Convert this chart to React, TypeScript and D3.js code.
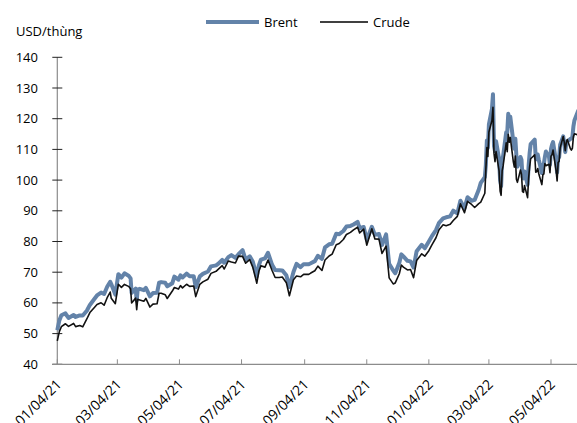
import React from "react";
import * as d3 from "d3";

const dates: string[] = [
  "2021-01-04","2021-01-06","2021-01-08","2021-01-12","2021-01-13","2021-01-15","2021-01-20","2021-01-22","2021-01-26","2021-01-29",
  "2021-02-02","2021-02-05","2021-02-09","2021-02-12","2021-02-16","2021-02-19","2021-02-22","2021-02-25","2021-02-26",
  "2021-03-02","2021-03-05","2021-03-08","2021-03-11","2021-03-15","2021-03-17","2021-03-18","2021-03-22","2021-03-23","2021-03-24","2021-03-26","2021-03-30",
  "2021-04-01","2021-04-05","2021-04-08","2021-04-12","2021-04-14","2021-04-16","2021-04-20","2021-04-22","2021-04-27","2021-04-29",
  "2021-05-03","2021-05-05","2021-05-07","2021-05-11","2021-05-14","2021-05-18","2021-05-20","2021-05-24","2021-05-27",
  "2021-06-01","2021-06-04","2021-06-09","2021-06-11","2021-06-15","2021-06-17","2021-06-21","2021-06-24","2021-06-28",
  "2021-07-01","2021-07-05","2021-07-08","2021-07-12","2021-07-15","2021-07-19","2021-07-21","2021-07-23","2021-07-27","2021-07-30",
  "2021-08-03","2021-08-06","2021-08-10","2021-08-13","2021-08-17","2021-08-20","2021-08-24","2021-08-27","2021-08-31",
  "2021-09-03","2021-09-08","2021-09-10","2021-09-14","2021-09-17","2021-09-21","2021-09-24","2021-09-28",
  "2021-10-01","2021-10-05","2021-10-08","2021-10-12","2021-10-15","2021-10-19","2021-10-22","2021-10-26","2021-10-28",
  "2021-11-01","2021-11-04","2021-11-09","2021-11-12","2021-11-16","2021-11-19","2021-11-23","2021-11-26","2021-11-30",
  "2021-12-02","2021-12-06","2021-12-08","2021-12-10","2021-12-14","2021-12-17","2021-12-20","2021-12-23","2021-12-28","2021-12-31",
  "2022-01-04","2022-01-07","2022-01-11","2022-01-14","2022-01-18","2022-01-21","2022-01-25","2022-01-28",
  "2022-02-01","2022-02-04","2022-02-08","2022-02-11","2022-02-15","2022-02-18","2022-02-22","2022-02-24","2022-02-28",
  "2022-03-01","2022-03-02","2022-03-03","2022-03-04","2022-03-07","2022-03-08","2022-03-09","2022-03-10","2022-03-11","2022-03-14",
  "2022-03-15","2022-03-16","2022-03-17","2022-03-18","2022-03-21","2022-03-22","2022-03-23","2022-03-24","2022-03-25","2022-03-28",
  "2022-03-29","2022-03-30","2022-03-31",
  "2022-04-01","2022-04-04","2022-04-05","2022-04-06","2022-04-07","2022-04-08","2022-04-11","2022-04-12","2022-04-13","2022-04-14",
  "2022-04-18","2022-04-19","2022-04-20","2022-04-21","2022-04-22","2022-04-25","2022-04-26","2022-04-27","2022-04-28","2022-04-29",
  "2022-05-02","2022-05-03","2022-05-04","2022-05-05","2022-05-06","2022-05-09","2022-05-10","2022-05-11","2022-05-12","2022-05-13",
  "2022-05-16","2022-05-17","2022-05-18","2022-05-19","2022-05-20","2022-05-23","2022-05-24","2022-05-25","2022-05-26","2022-05-27","2022-05-31"
];

const brent: number[] = [
  51.09,54.30,55.99,56.58,56.06,55.10,56.08,55.41,55.91,55.88,
  57.46,59.34,61.09,62.43,63.35,62.91,65.24,66.88,66.13,
  62.70,69.36,68.24,69.63,68.88,68.00,63.28,64.62,60.79,64.41,64.57,64.14,
  64.86,62.15,63.20,63.28,66.58,66.77,66.57,65.40,66.42,68.56,
  67.56,68.96,68.28,69.55,68.71,68.71,65.11,68.65,69.46,
  70.25,71.89,72.22,72.69,73.99,73.08,74.90,75.56,74.68,
  75.84,77.16,74.12,75.16,73.47,68.62,72.23,74.10,74.48,76.33,
  72.41,70.70,70.63,70.59,69.03,65.18,70.05,72.70,71.63,
  72.61,72.60,72.92,73.60,75.34,74.36,78.09,79.09,
  79.28,82.56,82.39,83.42,84.86,85.08,85.53,86.40,84.32,
  84.71,80.54,84.78,82.17,82.43,78.89,82.31,72.72,70.57,
  69.67,73.08,75.82,75.15,73.70,73.52,71.52,76.85,78.94,77.78,
  80.00,81.75,83.72,86.06,87.51,87.89,88.20,90.03,
  89.16,93.27,90.78,94.44,93.28,93.54,96.84,99.08,100.99,
  104.97,112.93,110.46,118.11,123.21,127.98,111.14,109.33,112.67,106.90,
  99.91,98.02,106.64,107.93,115.62,115.48,121.60,119.03,120.65,112.48,
  110.23,113.45,107.91,
  104.39,107.53,106.64,101.07,100.58,102.78,98.48,104.64,108.78,111.70,
  113.16,107.25,106.80,108.33,106.65,102.32,104.99,105.32,107.59,109.34,
  107.58,104.97,110.14,111.55,112.39,105.94,102.46,107.51,107.45,111.55,
  114.24,111.93,109.11,112.04,112.55,113.42,113.56,114.03,117.40,119.43,122.84
];

const crude: number[] = [
  47.62,50.63,52.24,53.21,52.91,52.36,53.31,52.27,52.61,52.20,
  54.76,56.85,58.36,59.47,60.05,59.24,61.70,63.53,61.50,
  59.75,66.09,65.05,66.02,65.39,64.60,60.00,61.55,57.76,61.18,60.97,60.55,
  61.45,58.65,59.60,59.70,63.15,63.13,62.67,61.43,63.86,65.01,
  64.49,65.63,64.90,66.08,65.37,65.49,62.05,66.05,66.85,
  67.72,69.62,70.29,70.91,72.12,71.04,73.66,73.30,72.98,
  75.23,75.16,72.94,74.10,71.65,66.42,70.30,72.07,71.65,73.95,
  70.56,68.28,68.29,68.44,66.59,62.32,67.54,68.74,68.50,
  69.29,69.30,69.72,70.46,71.97,70.56,73.98,75.29,
  75.88,78.93,79.35,80.64,82.28,82.96,83.76,84.65,82.81,
  84.05,78.81,84.15,80.79,80.76,76.10,78.50,68.15,66.18,
  66.50,69.49,72.36,71.67,70.73,70.86,68.23,73.79,75.98,75.21,
  76.99,78.90,81.22,83.82,85.43,85.14,85.60,86.82,
  88.20,92.31,89.36,93.10,92.07,91.07,92.35,92.81,95.72,
  103.41,110.60,107.67,115.68,119.40,123.70,108.70,106.02,109.33,103.01,
  96.44,95.04,102.98,104.70,112.12,109.27,114.93,112.34,113.90,105.96,
  104.24,107.82,100.28,
  99.27,103.28,101.96,96.23,96.03,98.26,94.29,100.60,104.25,106.95,
  108.21,102.56,102.75,103.79,102.07,98.54,101.70,102.02,105.36,104.69,
  105.17,102.41,107.81,108.26,109.77,103.09,99.76,105.71,106.13,110.49,
  114.20,112.40,109.59,112.21,113.23,110.29,109.77,110.33,114.09,115.07,114.67
];

const tickLabels: string[] = [
  "01/04/21","03/04/21","05/04/21","07/04/21","09/04/21","11/04/21","01/04/22","03/04/22","05/04/22"
];
const yTicks: number[] = [40, 50, 60, 70, 80, 90, 100, 110, 120, 130, 140];

const W = 577;
const H = 423;
const FONT = "'Open Sans', 'Noto Sans', sans-serif";
const BLUE = "#6383a9";
const AXIS = "#8c8c8c";

export default function App() {
  const parseIso = d3.utcParse("%Y-%m-%d");
  const parseTick = d3.utcParse("%m/%d/%y");
  const tickDates = tickLabels.map((t) => parseTick(t) as Date);

  const x = d3
    .scaleUtc()
    .domain([tickDates[0], tickDates[tickDates.length - 1]])
    .range([57.3, 551]);
  const y = d3.scaleLinear().domain([40, 140]).range([364.3, 57.3]);

  const rows = dates.map((d, i) => ({ date: parseIso(d) as Date, b: brent[i], c: crude[i] }));
  const lineB = d3
    .line<{ date: Date; b: number; c: number }>()
    .x((d) => x(d.date))
    .y((d) => y(d.b));
  const lineC = d3
    .line<{ date: Date; b: number; c: number }>()
    .x((d) => x(d.date))
    .y((d) => y(d.c));

  const x0 = x.range()[0];
  const y0 = y(40);

  return (
    <svg
      width={W}
      height={H}
      style={{ position: "absolute", left: 0, top: 0, background: "#fff" }}
      fontFamily={FONT}
    >
      <rect x={0} y={0} width={W} height={H} fill="#fff" />
      {/* unit label */}
      <text x={16} y={36} fontSize={13} fill="#000">USD/thùng</text>

      {/* legend */}
      <line x1={206} x2={259} y1={22} y2={22} stroke={BLUE} strokeWidth={4} />
      <text x={264} y={26.5} fontSize={13} fill="#000">Brent</text>
      <line x1={320} x2={368} y1={22} y2={22} stroke="#000" strokeWidth={1.5} />
      <text x={373} y={26.5} fontSize={13} fill="#000">Crude</text>

      {/* y axis */}
      <line x1={x0} x2={x0} y1={y(140)} y2={y0} stroke={AXIS} strokeWidth={1.2} />
      {yTicks.map((t) => (
        <g key={t}>
          <line x1={x0 - 5} x2={x0 + 5} y1={y(t)} y2={y(t)} stroke="#222" strokeWidth={1} />
          <text x={38} y={y(t) + 4.5} fontSize={13} textAnchor="end" fill="#000">
            {t}
          </text>
        </g>
      ))}

      {/* x axis */}
      <line x1={x0 - 5} x2={W} y1={y0} y2={y0} stroke={AXIS} strokeWidth={1.2} />
      {tickDates.map((d, i) => (
        <g key={tickLabels[i]}>
          <line x1={x(d)} x2={x(d)} y1={y0} y2={y0 - 5} stroke={AXIS} strokeWidth={1} />
          <text
            transform={`translate(${x(d) + 5},${y0 + 21}) rotate(-45)`}
            fontSize={14}
            textAnchor="end"
            fill="#000"
          >
            {tickLabels[i]}
          </text>
        </g>
      ))}

      {/* series */}
      <path d={lineB(rows) || ""} fill="none" stroke={BLUE} strokeWidth={4} strokeLinejoin="round" />
      <path d={lineC(rows) || ""} fill="none" stroke="#111" strokeWidth={1.6} strokeLinejoin="round" />
    </svg>
  );
}
